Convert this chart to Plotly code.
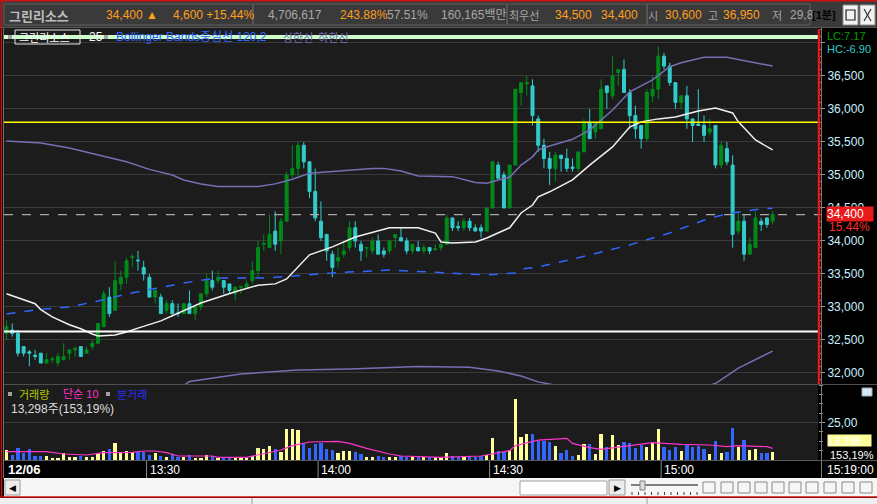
import plotly.graph_objects as go
import pandas as pd

W, H = 877, 504
DAY = "2023-12-06 "

# ---------------- data ----------------
times = pd.date_range(DAY + "13:05", periods=135, freq="min")

open_ = [32600,32650,32600,32400,32320,32270,32300,32150,32200,32150,
         32200,32300,32350,32400,32300,32400,32450,32700,33150,32950,
         33350,33450,33750,33710,33600,33450,33150,33150,32950,33050,
         32910,32900,33050,32900,33000,33200,33400,33400,33400,33350,
         33200,33300,33300,33400,33550,33950,33900,34150,34000,34300,
         35000,35100,35450,35200,34750,34300,34100,33800,33700,33800,
         33900,34200,33950,33890,33850,34000,33850,33850,34050,34050,
         34000,33850,33900,33850,33900,33870,33900,33950,34350,34220,
         34200,34300,34200,34200,34150,34500,35150,35000,34500,35150,
         36250,36380,36350,35850,35450,35250,35100,35300,35250,35120,
         35100,35350,35800,35650,35700,36350,36200,36550,36600,36250,
         35900,35750,35550,36200,36300,36800,36650,36400,36100,36200,
         35850,35770,35750,35650,35750,35150,35400,35150,34150,34300,
         33800,33900,34300,34350,34300]
high = [32800,32750,32650,32400,32350,32350,32300,32300,32250,32300,
        32450,32350,32400,32400,32400,32500,32750,33250,33300,33700,
        33550,33750,33800,33850,33700,33500,33300,33200,33100,33100,
        33050,33050,33250,33000,33200,33500,33550,33550,33400,33350,
        33300,33310,33400,33700,34000,34100,34400,34450,34350,35050,
        35450,35500,35500,35200,35100,34600,34100,33850,33900,34000,
        34300,34300,34000,33900,34050,34100,33900,34000,34100,34200,
        34050,33950,34000,33950,33900,33950,33950,34400,34350,34300,
        34350,34350,34250,34250,34500,35200,35200,35050,35150,36300,
        36400,36500,36450,35900,35550,35350,35350,35300,35400,35250,
        35350,35850,36000,35800,36450,36350,36800,36600,36750,36300,
        36050,35750,36300,36500,36950,36850,36700,36400,36200,36350,
        35850,36300,35900,35850,35750,35500,35500,35300,34450,34400,
        34050,34450,34350,34350,34450]
low = [32500,32550,32250,32250,32100,32200,32150,32150,32150,32100,
       32200,32200,32250,32250,32300,32350,32450,32700,32850,32950,
       33250,33350,33600,33550,33400,33150,33050,32900,32900,32850,
       32850,32900,32900,32800,32950,33150,33250,33350,33200,33200,
       33100,33200,33300,33350,33450,33850,33900,33850,33800,34300,
       34950,34950,35100,34650,34300,34000,33700,33450,33600,33750,
       33850,33900,33700,33750,33800,33800,33750,33800,33900,34000,
       33800,33800,33850,33800,33800,33850,33850,33950,34150,34150,
       34150,34150,34150,34050,34150,34500,34950,34500,34500,35150,
       36050,36200,35750,35350,35100,34850,34900,35050,35050,35050,
       35050,35350,35550,35550,35700,36000,36150,36350,36250,35700,
       35550,35400,35500,36100,36150,36600,36350,36000,36000,35700,
       35500,35750,35500,35600,35100,35100,35150,33900,34100,33700,
       33800,33900,34150,34200,34250]
close = [32700,32600,32300,32300,32300,32250,32150,32200,32210,32250,
         32250,32350,32370,32250,32350,32450,32750,33200,32900,33400,
         33450,33700,33760,33700,33500,33150,33250,32900,33050,32900,
         32900,33050,32900,33000,33200,33400,33300,33450,33300,33250,
         33300,33310,33350,33550,33900,33960,34100,33950,34300,35000,
         35100,35450,35200,34750,34350,34050,33850,33600,33750,33850,
         34200,34000,33850,33900,34000,33800,33800,34000,34100,34000,
         33850,33950,33850,33900,33850,33880,33950,34350,34200,34200,
         34300,34200,34150,34150,34500,35200,34950,34500,35150,36300,
         36400,36400,35900,35450,35250,35100,35300,35250,35100,35100,
         35350,35800,35550,35800,36300,36250,36500,36600,36250,35900,
         35700,35550,36250,36300,36800,36650,36400,36100,36200,35850,
         35750,35750,35600,35700,35150,35450,35200,34100,34300,33800,
         33950,34350,34250,34250,34400]
volume = [6660,3100,8000,4440,7330,2660,2660,2660,1330,1330,
          4440,2220,2000,2660,1780,2000,4660,5770,7330,11550,
          4880,6220,5550,5550,5100,3550,4440,2660,2220,4000,
          1780,2000,3100,1330,1550,3100,2660,1330,1550,1550,
          1550,890,1330,2660,8000,7550,9330,7100,5330,20650,
          20650,20000,11100,7770,10430,11100,7100,6660,4440,5770,
          6220,5550,4000,1780,2220,2660,1780,2220,1780,2660,
          1780,1780,1780,1780,2220,1780,2220,4880,2660,2220,
          2000,2660,2220,2660,3330,14870,6000,5100,6660,40600,
          15540,17300,17300,12650,12650,12200,9330,4880,6660,2660,
          3550,10650,10650,4000,17300,8440,16650,10000,12000,11550,
          8220,10000,8440,12000,20400,8880,6660,8440,6220,10650,
          8440,9550,7330,4000,12650,4880,5330,21100,8440,13320,
          6660,7100,4440,4440,5550]

ma25_time = ["13:05","13:07","13:10","13:11","13:13","13:16","13:18","13:20","13:21","13:24",
             "13:26","13:28","13:30","13:32","13:39","13:45","13:49","13:52","13:54","13:56",
             "13:58","14:02","14:06","14:12","14:17","14:20","14:21","14:23","14:27","14:29",
             "14:33","14:35","14:37","14:38","14:40","14:44","14:47","14:51","14:54","14:56",
             "14:59","15:02","15:06","15:09","15:12","15:13","15:16","15:19"]
ma25_val = [33200,33140,33050,32960,32850,32730,32670,32590,32560,32575,
            32620,32680,32740,32790,33060,33230,33330,33350,33425,33605,
            33790,33910,34060,34200,34200,34120,33985,33970,33985,34045,
            34200,34425,34545,34670,34745,34925,35150,35425,35725,35805,
            35850,35880,35970,36015,35940,35805,35530,35380]

bb_mid_time = ["13:05","13:10","13:16","13:21","13:26","13:31","13:36","13:42","13:51","13:55",
               "14:02","14:12","14:24","14:29","14:34","14:35","14:38","14:45","14:54","15:01",
               "15:08","15:12","15:17","15:19"]
bb_mid_val = [32895,32955,33000,33090,33195,33275,33365,33440,33440,33470,
              33515,33560,33515,33485,33515,33575,33605,33745,33940,34120,
              34350,34425,34485,34495]

bb_up_time = ["13:05","13:11","13:16","13:21","13:26","13:30","13:34","13:36","13:39","13:42",
              "13:49","13:52","13:55","13:58","14:02","14:05","14:09","14:11","14:14","14:17",
              "14:23","14:27","14:29","14:31","14:33","14:35","14:37","14:38","14:40","14:44",
              "14:47","14:51","14:54","14:58","15:01","15:03","15:07","15:11","15:15","15:19"]
bb_up_val = [35515,35485,35410,35305,35200,35085,35000,34925,34865,34825,
             34825,34865,34935,35025,35050,35075,35100,35100,35060,34985,
             34975,34885,34875,34925,34965,35150,35275,35380,35440,35540,
             35680,35985,36260,36440,36640,36700,36785,36785,36715,36650]

bb_low_time = ["13:05","13:21","13:30","13:36","13:37","13:46","13:56","14:05","14:17","14:26",
               "14:31","14:35","14:38","14:45","14:55","15:03","15:09","15:13","15:19"]
bb_low_val = [30300,30880,31460,31805,31870,31985,32045,32060,32100,32085,
              32030,31955,31865,31750,31550,31700,31840,32075,32330]

vol_ma_time = ["13:05","13:12","13:15","13:19","13:22","13:27","13:29","13:31","13:33","13:35",
               "13:41","13:42","13:47","13:49","13:53","13:55","13:58","14:03","14:05","14:08",
               "14:12","14:14","14:21","14:28","14:33","14:34","14:38","14:43","14:44","14:47",
               "14:49","14:54","14:56","14:58","15:03","15:08","15:11","15:13","15:18","15:19"]
vol_ma_val = [5550,5550,4000,3330,4880,5100,6000,6000,4880,2660,
              2660,1780,1780,3330,6660,9550,12000,12430,11100,7770,
              4000,2660,1780,2660,6220,9550,13300,14400,11100,8220,
              7100,9550,10650,11550,10430,10000,8880,9550,8880,7770]

price_ticks = [32000,32500,33000,33500,34000,34500,35000,35500,36000,36500,37000]
price_tick_text = ["32,000","32,500","33,000","33,500","34,000","34,500","35,000","35,500","36,000","36,500",""]
time_marks = ["13:30","14:00","14:30","15:00"]

LINE_TOP = 37090
LINE_YELLOW = 35800
LINE_WHITE = 32630
LAST_PRICE = 34400

# ---------------- helpers ----------------
def T(t): return DAY + t
def shift_half(t): return pd.Timestamp(DAY + t) - pd.Timedelta(seconds=30)

NARROW = "Liberation Sans, Arial, sans-serif"
KR = "Noto Sans CJK KR, sans-serif"
MIX = "Liberation Sans, Noto Sans CJK KR, sans-serif"

shapes, anns = [], []

def R(x0, y0, x1, y1, fill=None, line=None, lw=1, layer="above"):
    shapes.append(dict(type="rect", xref="paper", yref="paper", x0=x0 / W, x1=x1 / W,
                       y0=1 - y1 / H, y1=1 - y0 / H, fillcolor=fill or "rgba(0,0,0,0)",
                       line=dict(color=line or "rgba(0,0,0,0)", width=lw if line else 0), layer=layer))

def L(x0, y0, x1, y1, color, width=1, dash="solid"):
    shapes.append(dict(type="line", xref="paper", yref="paper", x0=x0 / W, x1=x1 / W,
                       y0=1 - y0 / H, y1=1 - y1 / H, line=dict(color=color, width=width, dash=dash)))

def A(x, y, text, color, size=12, family=NARROW, xanchor="left", bg=None, **kw):
    d = dict(x=x / W, y=1 - y / H, xref="paper", yref="paper", text=text, showarrow=False,
             font=dict(color=color, size=size, family=family), xanchor=xanchor, yanchor="middle",
             borderpad=0)
    if bg:
        d["bgcolor"] = bg
    d.update(kw)
    anns.append(d)

fig = go.Figure()

# ---------------- price panel ----------------
fig.add_trace(go.Scatter(x=[T(t) for t in bb_up_time], y=bb_up_val, mode="lines",
                         line=dict(color="#7470b4", width=1.5), xaxis="x", yaxis="y"))
fig.add_trace(go.Scatter(x=[T(t) for t in bb_low_time], y=bb_low_val, mode="lines",
                         line=dict(color="#7470b4", width=1.5), xaxis="x", yaxis="y"))
fig.add_trace(go.Scatter(x=[T(t) for t in bb_mid_time], y=bb_mid_val, mode="lines",
                         line=dict(color="#3366ff", width=1.5, dash="dash"), xaxis="x", yaxis="y"))
fig.add_trace(go.Scatter(x=[T(t) for t in ma25_time], y=ma25_val, mode="lines",
                         line=dict(color="#f0f0f0", width=1.5), xaxis="x", yaxis="y"))
fig.add_trace(go.Candlestick(
    x=times, open=open_, high=high, low=low, close=close,
    increasing=dict(line=dict(color="#008a1a", width=1), fillcolor="#008a1a"),
    decreasing=dict(line=dict(color="#33cccc", width=1), fillcolor="#33cccc"),
    whiskerwidth=0, xaxis="x", yaxis="y"))

# ---------------- volume panel ----------------
vcolors = ["#ffff99" if c > o else "#3366ff" for o, c in zip(open_, close)]
fig.add_trace(go.Bar(x=times, y=volume, marker=dict(color=vcolors, line=dict(width=0)),
                     width=34000, xaxis="x2", yaxis="y2"))
fig.add_trace(go.Scatter(x=[T(t) for t in vol_ma_time], y=vol_ma_val, mode="lines",
                         line=dict(color="#ff33cc", width=1.2), xaxis="x2", yaxis="y2"))

# ---------------- horizontal reference lines ----------------
for val, col, wd, dash in [(LINE_TOP, "#ccffcc", 4, "solid"), (LINE_YELLOW, "#ffff00", 1.5, "solid"),
                           (LINE_WHITE, "#ffffff", 2, "solid"), (LAST_PRICE, "#a8a8a8", 1.2, "dash")]:
    shapes.append(dict(type="line", xref="paper", yref="y", x0=4 / W, x1=818 / W, y0=val, y1=val,
                       line=dict(color=col, width=wd, dash=dash), layer="above"))

# ---------------- frame pieces ----------------
R(0, 0, 877, 28, fill="#3a3a3a")
L(0, 0.8, 877, 0.8, "#cc1111", 1.6)
for a, b in [(4, 253), (253, 507), (507, 647), (647, 810)]:
    R(a, 4, b, 25, line="#5e5e5e", lw=1)
R(843, 5, 858, 25, fill="#f2f2f2", line="#909090")
R(860, 5, 875, 25, fill="#f2f2f2", line="#909090")
R(846, 10, 855, 20, line="#202020", lw=1.2)
L(864, 9, 871, 21, "#303030", 1.2)
L(871, 9, 864, 21, "#303030", 1.2)
L(0, 27.5, 877, 27.5, "#555555", 1)

L(1.5, 0, 1.5, 497, "#cc1111", 1.5)
L(3.5, 28, 3.5, 478, "#707070", 1)
L(819, 29, 819, 384, "#e01818", 2.5)
L(821.5, 28, 821.5, 478, "#7a7a7a", 1)

L(4, 384.5, 877, 384.5, "#505050", 1)
L(4, 460.5, 877, 460.5, "#5a5a5a", 1)
for t in time_marks:
    shapes.append(dict(type="line", xref="x2", yref="paper", x0=shift_half(t), x1=shift_half(t),
                       y0=1 - 478 / H, y1=1 - 461 / H, line=dict(color="#8a8a8a", width=1)))

# bottom toolbar
R(4, 478, 877, 497, fill="#f6f6f6")
R(5, 480, 20, 495, fill="#ececec", line="#9a9a9a")
A(12.5, 488, "◀", "#000000", 9, "DejaVu Sans", xanchor="center")
R(520, 481, 607, 495, fill="#ffffff", line="#a0a0a0")
R(609, 480, 625, 495, fill="#ececec", line="#9a9a9a")
A(617, 488, "▶", "#000000", 9, "DejaVu Sans", xanchor="center")
L(631, 485, 698, 485, "#808080", 2)
R(640, 481, 645, 490, fill="#dcdcdc", line="#808080")
for k in range(11):
    L(632 + k * 6.5, 492, 632 + k * 6.5, 495, "#404040", 1)
for k, xi in enumerate([709, 727, 744, 761, 778, 795, 812, 830, 848, 866]):
    R(xi - 6, 482, xi + 6, 493, line="#8a8a8a", lw=1)
L(0, 497, 877, 497, "#cc1111", 1.6)
R(0, 498, 877, 504, fill="#f0f0f0")
L(252, 498, 252, 504, "#a0a0a0")
L(647, 498, 647, 504, "#a0a0a0")

# ---------------- texts: header ----------------
YH = 15
A(8, YH, "<b>그린리소스</b>", "#bdbdbd", 13, KR)
A(105, YH, "34,400 ▲", "#ff9f1a", 12, MIX)
A(172, YH, "4,600 +15.44%", "#ff9f1a", 12)
A(267, YH, "4,706,617", "#a8a8a8", 12)
A(339, YH, "243.88%", "#ff9f1a", 12)
A(386, YH, "57.51%", "#a8a8a8", 12)
A(440, YH, "160,165백만", "#a8a8a8", 12, MIX)
A(508, YH, "최우선", "#a8a8a8", 11, KR)
A(554, YH, "34,500", "#ff9f1a", 12)
A(600, YH, "34,400", "#ff9f1a", 12)
A(647, YH, "시", "#a8a8a8", 11, KR)
A(664, YH, "30,600", "#ff9f1a", 12)
A(707, YH, "고", "#a8a8a8", 11, KR)
A(722, YH, "36,950", "#ff9f1a", 12)
A(771, YH, "저", "#a8a8a8", 11, KR)
A(789, YH, "29,8", "#a8a8a8", 12)
A(811, YH, "<b>[1분]</b>", "#000000", 11, MIX)

# ---------------- texts: price legend ----------------
YL = 37
R(8, 35, 12, 39, fill="#a0a0a0")
R(15, 30, 80, 44, line="#e8e8e8", lw=1)
A(18, YL, "그린리소스", "#ffffff", 11, KR)
A(88, YL, "25", "#ffffff", 12)
R(104, 35, 108, 39, fill="#a0a0a0")
A(115, YL, "Bollinger Bands중심선 120,2", "#3366ff", 12, MIX)
A(282, YL, "상한선  하한선", "#7470b4", 11, KR)

# right axis extras
A(826, 36, "LC:7.17", "#00a000", 11)
A(826, 49, "HC:-6.90", "#33cccc", 11)
A(826, 214, "34,400", "#ffffff", 12, bg="#e81a1a", width=46, height=14, align="left")
A(828, 227, "15.44%", "#ff2a2a", 12)

# ---------------- texts: volume ----------------
YV = 394
R(8, 392, 12, 396, fill="#a0a0a0")
A(18, YV, "거래량", "#b8c800", 11, KR)
A(62, YV, "단순 10", "#ff33cc", 11, MIX)
R(106, 392, 110, 396, fill="#a0a0a0")
A(116, YV, "분거래", "#2a2aff", 11, KR)
A(10, 409, "13,298주(153,19%)", "#dcdcdc", 12, MIX)
A(827, 440, "13,298", "#ffffff", 11, bg="#ffff99", width=43, height=11, align="left")
A(829, 455, "153,19%", "#ffffff", 11)
R(862, 388, 872, 396, fill="#d8e8f8", line="#99aabb")

# ---------------- texts: time strip ----------------
YT = 469.5
A(7, YT, "<b>12/06</b>", "#ffffff", 13)
for t in time_marks:
    anns.append(dict(x=shift_half(t), y=1 - YT / H, xref="x2", yref="paper", text=t,
                     showarrow=False, xanchor="left", yanchor="middle", xshift=1,
                     font=dict(color="#ffffff", size=12, family=NARROW)))
A(826, YT, "15:19:00", "#ffffff", 12)

# ---------------- layout ----------------
x_range = [pd.Timestamp(T("13:05")) - pd.Timedelta(seconds=26), pd.Timestamp(T("13:05")) + pd.Timedelta(seconds=8516)]
axis_x = dict(range=x_range, showticklabels=False, showgrid=False, zeroline=False, showline=False,
              ticks="", fixedrange=True)

fig.update_layout(
    width=W, height=H, autosize=False, margin=dict(l=0, r=0, t=0, b=0, pad=0),
    paper_bgcolor="#000000", plot_bgcolor="#1c1c1c", showlegend=False, hovermode=False,
    boxgap=0.28, boxgroupgap=0.28, bargap=0,
    xaxis=dict(domain=[4 / W, 818 / W], anchor="y", rangeslider=dict(visible=False), **axis_x),
    xaxis2=dict(domain=[4 / W, 818 / W], anchor="y2", **axis_x),
    yaxis=dict(domain=[1 - 384 / H, 1 - 28 / H], range=[31833, 37227], side="right", anchor="x",
               tickvals=price_ticks, ticktext=price_tick_text, showgrid=True, gridcolor="#3a3a3a",
               gridwidth=1, zeroline=False, showline=False, ticks="outside", ticklen=6,
               tickcolor="#9a9a9a", tickfont=dict(color="#c8f0ff", size=12, family=NARROW),
               minor=dict(dtick=100, ticklen=3, tickcolor="#9a9a9a", ticks="outside", showgrid=False),
               fixedrange=True),
    yaxis2=dict(domain=[1 - 460 / H, 1 - 385 / H], range=[0, 50000], side="right", anchor="x2",
                tickvals=[25000], ticktext=["25,00"], showgrid=True, gridcolor="#3a3a3a",
                zeroline=False, showline=False, ticks="outside", ticklen=6, tickcolor="#9a9a9a",
                tickfont=dict(color="#c8f0ff", size=12, family=NARROW),
                minor=dict(dtick=6250, ticklen=4, tickcolor="#9a9a9a", ticks="outside", showgrid=False),
                fixedrange=True),
    shapes=shapes, annotations=anns,
)

fig.write_html("out.html", config={"displayModeBar": False},
               post_script="document.body.style.margin='0';document.body.style.background='#000';")
